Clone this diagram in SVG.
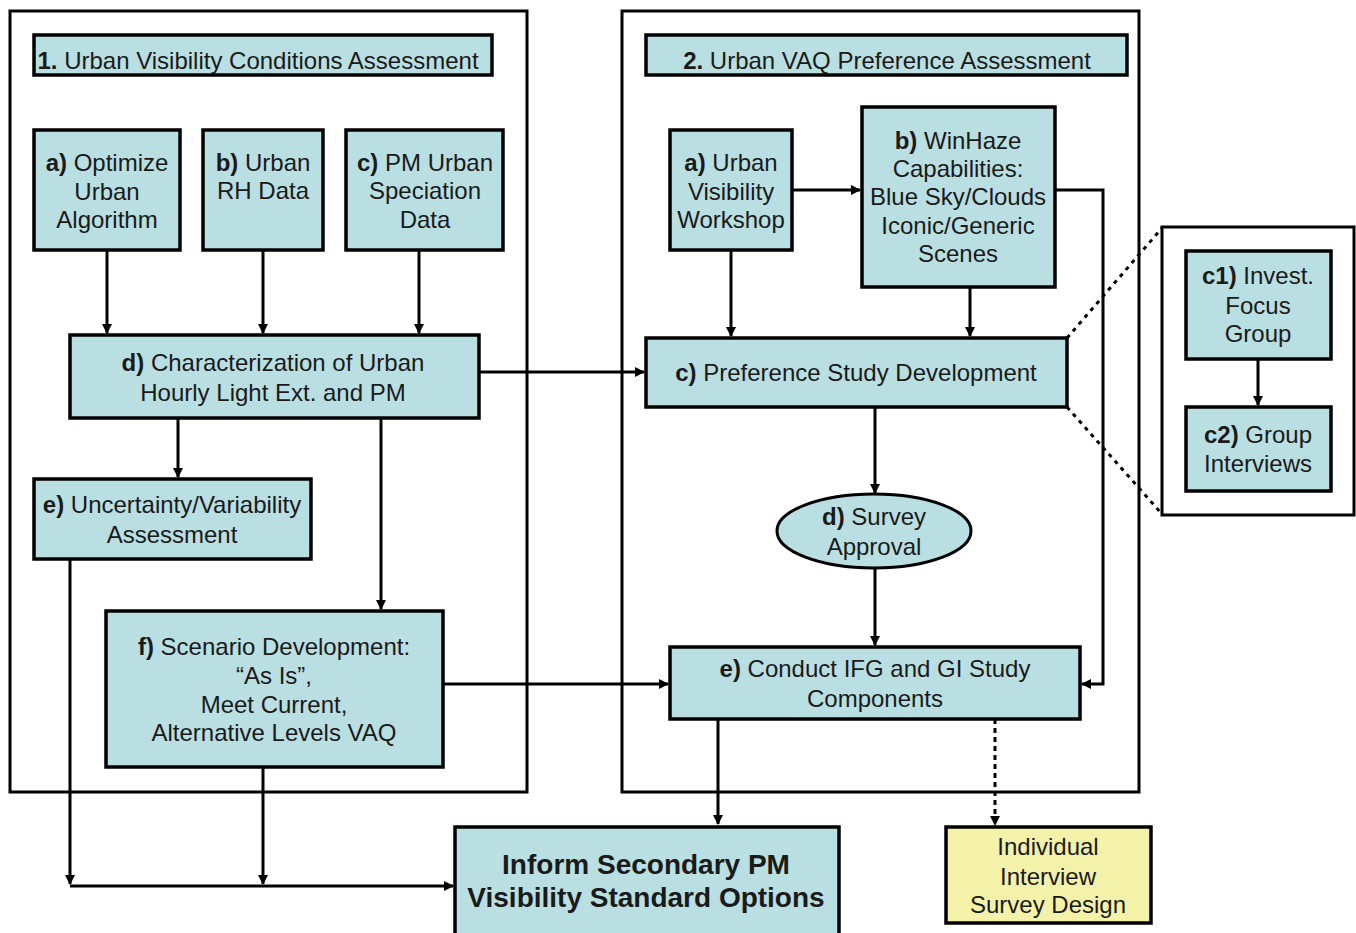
<svg xmlns="http://www.w3.org/2000/svg" width="1356" height="933" viewBox="0 0 1356 933">
<style>
.frame{fill:#fff;stroke:#000;stroke-width:3}
.box{fill:#b9dfe2;stroke:#000;stroke-width:3.5}
.ybox{fill:#f4f2a9;stroke:#000;stroke-width:3.5}
text{font-family:"Liberation Sans",Arial,sans-serif;font-size:24px;fill:#1a1a1a;text-anchor:middle}
.b{font-weight:bold}
.big{font-size:28px;font-weight:bold}
.c{fill:none;stroke:#000;stroke-width:3}
.dash{fill:none;stroke:#000;stroke-width:3;stroke-dasharray:5,4}
.dot{fill:none;stroke:#000;stroke-width:3;stroke-dasharray:4,5}
</style>
<defs>
<marker id="ah" markerWidth="10" markerHeight="10" refX="9" refY="5" orient="auto" markerUnits="userSpaceOnUse">
<path d="M0,0 L10,5 L0,10 Z" fill="#000"/>
</marker>
</defs>
<rect width="1356" height="933" fill="#fff"/>
<g id="frame1"><rect class="frame" x="10" y="11" width="517" height="781"/></g>
<g id="frame2"><rect class="frame" x="622" y="11" width="517" height="781"/></g>
<g id="zoomframe"><rect class="frame" x="1162" y="227" width="192" height="288"/></g>

<g id="connectors">
<path class="c" d="M107,250 V333" marker-end="url(#ah)"/>
<path class="c" d="M263,250 V333" marker-end="url(#ah)"/>
<path class="c" d="M419,250 V333" marker-end="url(#ah)"/>
<path class="c" d="M479,372 H644" marker-end="url(#ah)"/>
<path class="c" d="M178,418 V477" marker-end="url(#ah)"/>
<path class="c" d="M381,418 V609" marker-end="url(#ah)"/>
<path class="c" d="M70,559 V884" marker-end="url(#ah)"/>
<path class="c" d="M70,886 H453" marker-end="url(#ah)"/>
<path class="c" d="M263,767 V884" marker-end="url(#ah)"/>
<path class="c" d="M443,684 H668" marker-end="url(#ah)"/>
<path class="c" d="M792,190 H860" marker-end="url(#ah)"/>
<path class="c" d="M731,250 V336" marker-end="url(#ah)"/>
<path class="c" d="M970,287 V336" marker-end="url(#ah)"/>
<path class="c" d="M1055,190 H1103 V684 H1082" marker-end="url(#ah)"/>
<path class="c" d="M875,407 V493" marker-end="url(#ah)"/>
<path class="c" d="M875,568 V645" marker-end="url(#ah)"/>
<path class="c" d="M718,719 V824" marker-end="url(#ah)"/>
<path class="dash" d="M995,719 V825" marker-end="url(#ah)"/>
<path class="c" d="M1258,359 V405" marker-end="url(#ah)"/>
<path class="dot" d="M1067,338 L1162,228"/>
<path class="dot" d="M1067,407 L1162,514"/>
</g>

<g id="title1"><rect class="box" x="34" y="35" width="458" height="40"/>
<text x="258" y="69"><tspan class="b">1.</tspan> Urban Visibility Conditions Assessment</text></g>
<g id="n1a"><rect class="box" x="34" y="130" width="146" height="120"/>
<text x="107" y="171"><tspan class="b">a)</tspan> Optimize</text><text x="107" y="200">Urban</text><text x="107" y="228">Algorithm</text></g>
<g id="n1b"><rect class="box" x="203" y="130" width="120" height="120"/>
<text x="263" y="171"><tspan class="b">b)</tspan> Urban</text><text x="263" y="199">RH Data</text></g>
<g id="n1c"><rect class="box" x="346" y="130" width="157" height="120"/>
<text x="425" y="171"><tspan class="b">c)</tspan> PM Urban</text><text x="425" y="199">Speciation</text><text x="425" y="228">Data</text></g>
<g id="n1d"><rect class="box" x="70" y="335" width="409" height="83"/>
<text x="273" y="371"><tspan class="b">d)</tspan> Characterization of Urban</text><text x="273" y="401">Hourly Light Ext. and PM</text></g>
<g id="n1e"><rect class="box" x="34" y="479" width="277" height="80"/>
<text x="172" y="513"><tspan class="b">e)</tspan> Uncertainty/Variability</text><text x="172" y="543">Assessment</text></g>
<g id="n1f"><rect class="box" x="106" y="611" width="337" height="156"/>
<text x="274" y="655"><tspan class="b">f)</tspan> Scenario Development:</text><text x="274" y="684">“As Is”,</text><text x="274" y="713">Meet Current,</text><text x="274" y="741">Alternative Levels VAQ</text></g>

<g id="title2"><rect class="box" x="646" y="35" width="481" height="40"/>
<text x="887" y="69"><tspan class="b">2.</tspan> Urban VAQ  Preference Assessment</text></g>
<g id="n2a"><rect class="box" x="670" y="130" width="122" height="120"/>
<text x="731" y="171"><tspan class="b">a)</tspan> Urban</text><text x="731" y="200">Visibility</text><text x="731" y="228">Workshop</text></g>
<g id="n2b"><rect class="box" x="862" y="107" width="193" height="180"/>
<text x="958" y="149"><tspan class="b">b)</tspan> WinHaze</text><text x="958" y="177">Capabilities:</text><text x="958" y="205">Blue Sky/Clouds</text><text x="958" y="234">Iconic/Generic</text><text x="958" y="262">Scenes</text></g>
<g id="n2c"><rect class="box" x="646" y="338" width="421" height="69"/>
<text x="856" y="381"><tspan class="b">c)</tspan> Preference Study Development</text></g>
<g id="n2d"><ellipse class="box" cx="874" cy="531" rx="97" ry="37" style="stroke-width:3"/>
<text x="874" y="525"><tspan class="b">d)</tspan> Survey</text><text x="874" y="555">Approval</text></g>
<g id="n2e"><rect class="box" x="670" y="647" width="410" height="72"/>
<text x="875" y="677"><tspan class="b">e)</tspan> Conduct IFG and GI Study</text><text x="875" y="707">Components</text></g>
<g id="nc1"><rect class="box" x="1186" y="251" width="145" height="108"/>
<text x="1258" y="284"><tspan class="b">c1)</tspan> Invest.</text><text x="1258" y="314">Focus</text><text x="1258" y="342">Group</text></g>
<g id="nc2"><rect class="box" x="1186" y="407" width="145" height="84"/>
<text x="1258" y="443"><tspan class="b">c2)</tspan> Group</text><text x="1258" y="472">Interviews</text></g>
<g id="inform"><rect class="box" x="455" y="827" width="384" height="110"/>
<text class="big" x="646" y="874">Inform Secondary PM</text><text class="big" x="646" y="907">Visibility Standard Options</text></g>
<g id="indiv"><rect class="ybox" x="946" y="827" width="205" height="96"/>
<text x="1048" y="855">Individual</text><text x="1048" y="885">Interview</text><text x="1048" y="913">Survey Design</text></g>
</svg>
